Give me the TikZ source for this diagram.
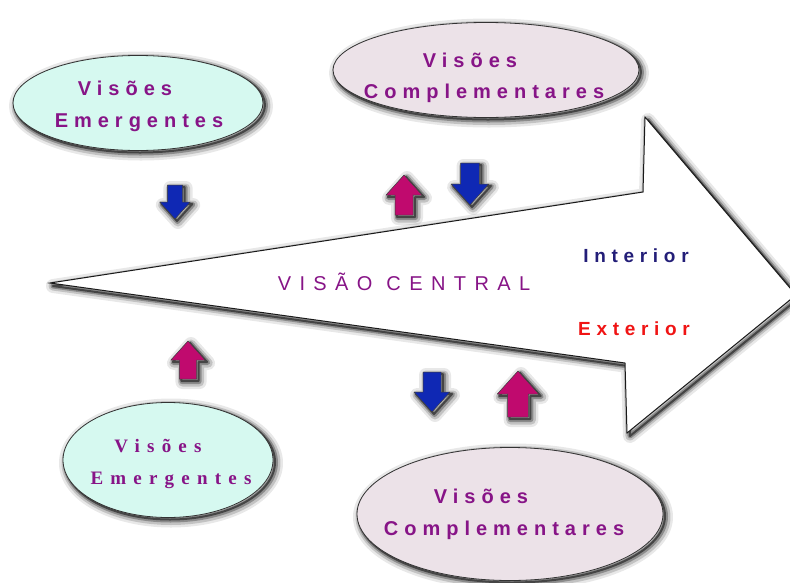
\documentclass[tikz,border=0pt]{standalone}
\usepackage{fontspec}
\setmainfont{Liberation Sans}
\newfontfamily\elsSans[LetterSpace=30]{Liberation Sans}
\newfontfamily\elsSerif[LetterSpace=38]{Liberation Serif}
\newfontfamily\elsCentral[LetterSpace=42]{Liberation Sans}
\newfontfamily\elsSide[LetterSpace=30]{Liberation Sans}
\usetikzlibrary{shapes.geometric}
\definecolor{txtpurple}{RGB}{135,20,135}
\definecolor{mint}{RGB}{214,249,240}
\definecolor{lavender}{RGB}{236,226,232}
\definecolor{arrblue}{RGB}{15,40,180}
\definecolor{arrmag}{RGB}{192,10,110}
\definecolor{navy}{RGB}{35,30,120}
\definecolor{exred}{RGB}{240,20,20}
\tikzset{
  fuzzy/.style={
    preaction={draw=black, draw opacity=.09, line width=14pt, line join=round, transform canvas={shift={(3pt,-3pt)}}},
    preaction={draw=black, draw opacity=.16, line width=9pt, line join=round, transform canvas={shift={(3pt,-3pt)}}},
    preaction={draw=black, draw opacity=.28, line width=5pt, line join=round, transform canvas={shift={(2.5pt,-2.5pt)}}},
    preaction={draw=black, draw opacity=.5, line width=2pt, line join=round, transform canvas={shift={(2pt,-2pt)}}}},
  ell/.style={ellipse, fuzzy, draw=black!80, line width=.8pt},
  etext/.style={anchor=base, text=txtpurple, font=\elsSans\bfseries\fontsize{20}{22}\selectfont, inner sep=0pt},
  stext/.style={anchor=base, text=txtpurple, font=\elsSerif\bfseries\fontsize{19}{22}\selectfont, inner sep=0pt},
  blockarr/.style={fuzzy, draw=black!75, line width=.5pt, line join=round},
  pics/uparr/.style={code={\path[blockarr, fill=arrmag] (-9,20) -- (-9,0) -- (-18,0) -- (0,-20) -- (18,0) -- (9,0) -- (9,20) -- cycle;}},
  pics/downarr/.style={code={\path[blockarr, fill=arrblue] (-9,-20) -- (9,-20) -- (9,0) -- (18,0) -- (0,20) -- (-18,0) -- (-9,0) -- cycle;}}
}
\def\bigarrowpath{(50,283) -- (643,192) -- (645,117) -- (796,295) -- (627,433) -- (625,363) -- cycle}
\begin{document}
\begin{tikzpicture}[x=1pt,y=-1pt]
\useasboundingbox (0,0) rectangle (790,582);
\fill[white] (0,0) rectangle (790,582);
\clip (0,0) rectangle (790,582);
% big arrow
\coordinate (tail) at (50,283);
\coordinate (tip) at (796,295);
\begin{scope}[shift={(3,3)}, line join=round]
  \draw[black, opacity=.09, line width=14pt] \bigarrowpath;
  \draw[black, opacity=.16, line width=9pt] \bigarrowpath;
  \draw[black, opacity=.28, line width=5pt] \bigarrowpath;
  \draw[black, opacity=.5, line width=2pt] \bigarrowpath;
\end{scope}
\path[fill=white, draw=black!90, line width=1pt, line join=miter] \bigarrowpath;
% ellipses
\node[ell, fill=mint, minimum width=250pt, minimum height=95pt] (emtop) at (138,103) {};
\node[ell, fill=lavender, minimum width=306pt, minimum height=95pt] (comptop) at (486,70) {};
\node[ell, fill=mint, minimum width=210pt, minimum height=115pt] (embot) at (168,460) {};
\node[ell, fill=lavender, minimum width=306pt, minimum height=133pt] (compbot) at (510,514) {};
% ellipse texts
\node[etext] (t1a) at (125,95) {Visões};
\node[etext] (t1b) at (139,127) {Emergentes};
\node[etext] (t2a) at (470,67) {Visões};
\node[etext] (t2b) at (484,98) {Complementares};
\node[stext] (t3a) at (158,452) {Visões};
\node[stext] (t3b) at (171,484) {Emergentes};
\node[etext] (t4a) at (481,503) {Visões};
\node[etext] (t4b) at (504,535) {Complementares};
% central texts
\node[anchor=base, text=txtpurple, font=\elsCentral\fontsize{20}{22}\selectfont, inner sep=0pt] (central) at (404,290) {VISÃO CENTRAL};
\node[anchor=base, text=navy, font=\elsSide\bfseries\fontsize{19}{22}\selectfont, inner sep=0pt] (interior) at (636,262) {Interior};
\node[anchor=base, text=exred, font=\elsSide\bfseries\fontsize{19}{22}\selectfont, inner sep=0pt] (exterior) at (634,335) {Exterior};
% small block arrows
\coordinate (d1) at (175,202);
\coordinate (u1) at (404,195);
\coordinate (d2) at (470,184);
\coordinate (u2) at (188,360);
\coordinate (d3) at (432,392);
\coordinate (u3) at (518,394);
\pic[scale=.85] at (d1) {downarr};
\pic[scale=1.0] at (u1) {uparr};
\pic[scale=1.05] at (d2) {downarr};
\pic[scale=.95] at (u2) {uparr};
\pic[scale=1.0] at (d3) {downarr};
\pic[scale=1.15] at (u3) {uparr};
\end{tikzpicture}
\end{document}
